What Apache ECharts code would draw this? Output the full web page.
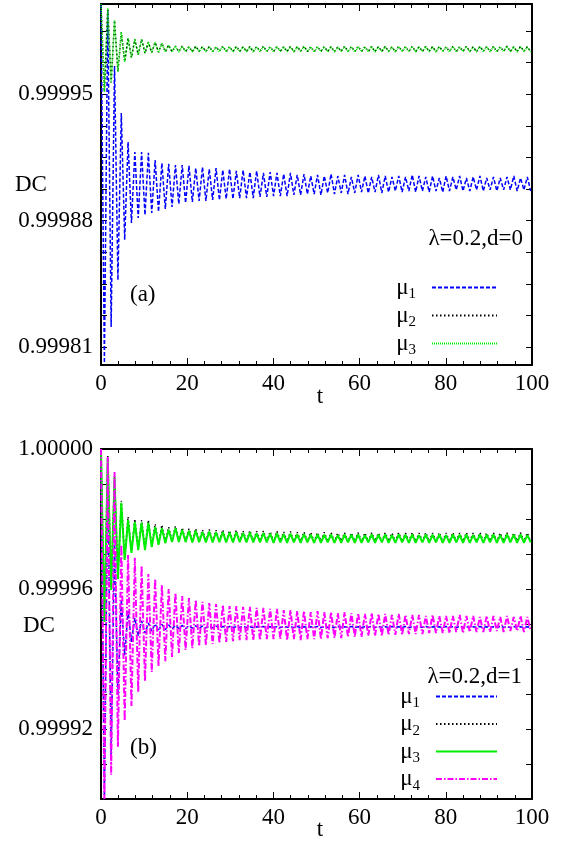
<!DOCTYPE html>
<html>
<head>
<meta charset="utf-8">
<script src="https://cdn.jsdelivr.net/npm/echarts@6/dist/echarts.min.js"></script>
<style>
  html, body { margin: 0; padding: 0; background: #fff; }
  #chart { width: 570px; height: 841px; }
</style>
</head>
<body>
<div id="chart"></div>
<script>
// Turning points of each DC(t) curve are stored in order; successive
// turning points are half an oscillation period apart in t.
const HALF_PERIOD = 0.785;

const tTicks = [0, 20, 40, 60, 80, 100];
const yLabelsA = [0.99981, 0.99988, 0.99995];
const yTicksA = [0.99981, 0.9998275, 0.999845, 0.9998625, 0.99988, 0.9998975,
                 0.999915, 0.9999325, 0.99995, 0.9999675, 0.999985];
const yLabelsB = [0.99992, 0.99996, 1.00000];
const yTicksB = [0.99991, 0.99992, 0.99993, 0.99994, 0.99995, 0.99996,
                 0.99997, 0.99998, 0.99999];

// panel (a): lambda=0.2, d=0
const dcA_mu1 = [
  1.0000000, 0.9998011, 0.9999967, 0.9998211, 0.9999657, 0.9998471, 0.9999396, 0.9998693,
  0.9999235, 0.9998787, 0.9999180, 0.9998814, 0.9999180, 0.9998831, 0.9999175, 0.9998842,
  0.9999136, 0.9998849, 0.9999119, 0.9998864, 0.9999114, 0.9998875, 0.9999108, 0.9998892,
  0.9999108, 0.9998898, 0.9999103, 0.9998903, 0.9999091, 0.9998909, 0.9999097, 0.9998909,
  0.9999086, 0.9998914, 0.9999091, 0.9998914, 0.9999080, 0.9998920, 0.9999086, 0.9998920,
  0.9999075, 0.9998925, 0.9999080, 0.9998925, 0.9999069, 0.9998925, 0.9999075, 0.9998931,
  0.9999064, 0.9998931, 0.9999069, 0.9998936, 0.9999064, 0.9998936, 0.9999058, 0.9998936,
  0.9999064, 0.9998942, 0.9999053, 0.9998942, 0.9999058, 0.9998947, 0.9999047, 0.9998947,
  0.9999053, 0.9998942, 0.9999047, 0.9998953, 0.9999058, 0.9998947, 0.9999047, 0.9998953,
  0.9999053, 0.9998947, 0.9999042, 0.9998953, 0.9999053, 0.9998958, 0.9999047, 0.9998953,
  0.9999042, 0.9998958, 0.9999053, 0.9998953, 0.9999047, 0.9998958, 0.9999042, 0.9998964,
  0.9999047, 0.9998958, 0.9999042, 0.9998964, 0.9999053, 0.9998958, 0.9999047, 0.9998964,
  0.9999042, 0.9998958, 0.9999047, 0.9998964, 0.9999036, 0.9998958, 0.9999047, 0.9998964,
  0.9999042, 0.9998970, 0.9999047, 0.9998964, 0.9999036, 0.9998964, 0.9999042, 0.9998970,
  0.9999047, 0.9998964, 0.9999036, 0.9998970, 0.9999042, 0.9998964, 0.9999036, 0.9998970,
  0.9999042, 0.9998970, 0.9999047, 0.9998964, 0.9999036, 0.9998970, 0.9999042, 0.9998964
];
const dcA_mu2 = [
  1.0000000, 0.9999515, 0.9999975, 0.9999565, 0.9999908, 0.9999626, 0.9999843, 0.9999681,
  0.9999810, 0.9999703, 0.9999804, 0.9999719, 0.9999804, 0.9999728, 0.9999788, 0.9999731,
  0.9999787, 0.9999733, 0.9999782, 0.9999736, 0.9999772, 0.9999736, 0.9999767, 0.9999736,
  0.9999766, 0.9999737, 0.9999764, 0.9999736, 0.9999766, 0.9999738, 0.9999763, 0.9999737,
  0.9999765, 0.9999736, 0.9999763, 0.9999738, 0.9999766, 0.9999737, 0.9999764, 0.9999736,
  0.9999765, 0.9999738, 0.9999763, 0.9999737, 0.9999765, 0.9999736, 0.9999764, 0.9999738,
  0.9999766, 0.9999737, 0.9999763, 0.9999736, 0.9999765, 0.9999738, 0.9999764, 0.9999737,
  0.9999765, 0.9999736, 0.9999764, 0.9999738, 0.9999766, 0.9999737, 0.9999763, 0.9999736,
  0.9999765, 0.9999738, 0.9999764, 0.9999737, 0.9999765, 0.9999736, 0.9999763, 0.9999738,
  0.9999766, 0.9999737, 0.9999764, 0.9999736, 0.9999765, 0.9999738, 0.9999763, 0.9999737,
  0.9999765, 0.9999736, 0.9999764, 0.9999738, 0.9999766, 0.9999737, 0.9999763, 0.9999736,
  0.9999765, 0.9999738, 0.9999764, 0.9999737, 0.9999765, 0.9999736, 0.9999763, 0.9999738,
  0.9999766, 0.9999737, 0.9999764, 0.9999736, 0.9999765, 0.9999738, 0.9999763, 0.9999737,
  0.9999765, 0.9999736, 0.9999764, 0.9999738, 0.9999766, 0.9999737, 0.9999763, 0.9999736,
  0.9999765, 0.9999738, 0.9999764, 0.9999737, 0.9999765, 0.9999736, 0.9999763, 0.9999738,
  0.9999766, 0.9999737, 0.9999764, 0.9999736, 0.9999765, 0.9999738, 0.9999763, 0.9999737
];
const dcA_mu3 = [
  1.0000000, 0.9999512, 0.9999978, 0.9999562, 0.9999911, 0.9999623, 0.9999845, 0.9999679,
  0.9999812, 0.9999701, 0.9999806, 0.9999717, 0.9999806, 0.9999727, 0.9999789, 0.9999729,
  0.9999789, 0.9999731, 0.9999784, 0.9999734, 0.9999773, 0.9999734, 0.9999767, 0.9999734,
  0.9999765, 0.9999735, 0.9999763, 0.9999734, 0.9999765, 0.9999736, 0.9999762, 0.9999735,
  0.9999764, 0.9999734, 0.9999762, 0.9999736, 0.9999765, 0.9999735, 0.9999763, 0.9999734,
  0.9999764, 0.9999736, 0.9999762, 0.9999735, 0.9999764, 0.9999734, 0.9999763, 0.9999736,
  0.9999765, 0.9999735, 0.9999762, 0.9999734, 0.9999764, 0.9999736, 0.9999763, 0.9999735,
  0.9999764, 0.9999734, 0.9999763, 0.9999736, 0.9999765, 0.9999735, 0.9999762, 0.9999734,
  0.9999764, 0.9999736, 0.9999763, 0.9999735, 0.9999764, 0.9999734, 0.9999762, 0.9999736,
  0.9999765, 0.9999735, 0.9999763, 0.9999734, 0.9999764, 0.9999736, 0.9999762, 0.9999735,
  0.9999764, 0.9999734, 0.9999763, 0.9999736, 0.9999765, 0.9999735, 0.9999762, 0.9999734,
  0.9999764, 0.9999736, 0.9999763, 0.9999735, 0.9999764, 0.9999734, 0.9999762, 0.9999736,
  0.9999765, 0.9999735, 0.9999763, 0.9999734, 0.9999764, 0.9999736, 0.9999762, 0.9999735,
  0.9999764, 0.9999734, 0.9999763, 0.9999736, 0.9999765, 0.9999735, 0.9999762, 0.9999734,
  0.9999764, 0.9999736, 0.9999763, 0.9999735, 0.9999764, 0.9999734, 0.9999762, 0.9999736,
  0.9999765, 0.9999735, 0.9999763, 0.9999734, 0.9999764, 0.9999736, 0.9999762, 0.9999735
];

// panel (b): lambda=0.2, d=1
const dcB_mu1 = [
  1.0000000, 0.9999000, 0.9999940, 0.9999126, 0.9999737, 0.9999297, 0.9999569, 0.9999411,
  0.9999537, 0.9999449, 0.9999517, 0.9999466, 0.9999509, 0.9999474, 0.9999503, 0.9999480,
  0.9999500, 0.9999483, 0.9999499, 0.9999484, 0.9999497, 0.9999486, 0.9999496, 0.9999487,
  0.9999496, 0.9999487, 0.9999495, 0.9999488, 0.9999495, 0.9999488, 0.9999494, 0.9999489,
  0.9999494, 0.9999489, 0.9999494, 0.9999489, 0.9999493, 0.9999490, 0.9999493, 0.9999490,
  0.9999492, 0.9999490, 0.9999493, 0.9999490, 0.9999492, 0.9999490, 0.9999492, 0.9999491,
  0.9999493, 0.9999490, 0.9999492, 0.9999491, 0.9999492, 0.9999490, 0.9999493, 0.9999491,
  0.9999492, 0.9999490, 0.9999493, 0.9999490, 0.9999492, 0.9999490, 0.9999492, 0.9999491,
  0.9999493, 0.9999490, 0.9999492, 0.9999491, 0.9999492, 0.9999490, 0.9999493, 0.9999491,
  0.9999492, 0.9999490, 0.9999493, 0.9999490, 0.9999492, 0.9999490, 0.9999492, 0.9999491,
  0.9999493, 0.9999490, 0.9999492, 0.9999491, 0.9999492, 0.9999490, 0.9999493, 0.9999491,
  0.9999492, 0.9999490, 0.9999493, 0.9999490, 0.9999492, 0.9999490, 0.9999492, 0.9999491,
  0.9999493, 0.9999490, 0.9999492, 0.9999491, 0.9999492, 0.9999490, 0.9999493, 0.9999491,
  0.9999492, 0.9999490, 0.9999493, 0.9999490, 0.9999492, 0.9999490, 0.9999492, 0.9999491,
  0.9999493, 0.9999490, 0.9999492, 0.9999491, 0.9999492, 0.9999490, 0.9999493, 0.9999491,
  0.9999492, 0.9999490, 0.9999493, 0.9999490, 0.9999492, 0.9999490, 0.9999492, 0.9999491
];
const dcB_mu2 = [
  1.0000000, 0.9999515, 0.9999980, 0.9999605, 0.9999924, 0.9999635, 0.9999852, 0.9999688,
  0.9999806, 0.9999708, 0.9999800, 0.9999715, 0.9999797, 0.9999715, 0.9999797, 0.9999723,
  0.9999786, 0.9999729, 0.9999783, 0.9999734, 0.9999777, 0.9999737, 0.9999780, 0.9999737,
  0.9999775, 0.9999737, 0.9999772, 0.9999736, 0.9999772, 0.9999737, 0.9999769, 0.9999736,
  0.9999770, 0.9999736, 0.9999768, 0.9999737, 0.9999769, 0.9999736, 0.9999767, 0.9999736,
  0.9999768, 0.9999737, 0.9999766, 0.9999736, 0.9999767, 0.9999736, 0.9999765, 0.9999737,
  0.9999766, 0.9999736, 0.9999764, 0.9999736, 0.9999765, 0.9999737, 0.9999763, 0.9999736,
  0.9999764, 0.9999736, 0.9999762, 0.9999737, 0.9999763, 0.9999736, 0.9999762, 0.9999736,
  0.9999761, 0.9999737, 0.9999762, 0.9999736, 0.9999761, 0.9999736, 0.9999760, 0.9999737,
  0.9999761, 0.9999736, 0.9999760, 0.9999737, 0.9999761, 0.9999736, 0.9999760, 0.9999736,
  0.9999761, 0.9999737, 0.9999760, 0.9999736, 0.9999761, 0.9999737, 0.9999760, 0.9999736,
  0.9999761, 0.9999736, 0.9999760, 0.9999737, 0.9999761, 0.9999736, 0.9999760, 0.9999737,
  0.9999761, 0.9999736, 0.9999760, 0.9999737, 0.9999761, 0.9999736, 0.9999760, 0.9999736,
  0.9999761, 0.9999737, 0.9999760, 0.9999736, 0.9999761, 0.9999737, 0.9999760, 0.9999736,
  0.9999761, 0.9999736, 0.9999760, 0.9999737, 0.9999761, 0.9999736, 0.9999760, 0.9999737,
  0.9999761, 0.9999736, 0.9999760, 0.9999737, 0.9999761, 0.9999736, 0.9999760, 0.9999736
];
const dcB_mu3 = [
  0.9999997, 0.9999506, 0.9999974, 0.9999597, 0.9999917, 0.9999629, 0.9999846, 0.9999683,
  0.9999797, 0.9999703, 0.9999791, 0.9999711, 0.9999789, 0.9999711, 0.9999789, 0.9999720,
  0.9999777, 0.9999726, 0.9999774, 0.9999731, 0.9999769, 0.9999734, 0.9999774, 0.9999734,
  0.9999769, 0.9999734, 0.9999766, 0.9999733, 0.9999766, 0.9999734, 0.9999763, 0.9999733,
  0.9999764, 0.9999733, 0.9999762, 0.9999734, 0.9999763, 0.9999733, 0.9999761, 0.9999733,
  0.9999762, 0.9999734, 0.9999760, 0.9999733, 0.9999761, 0.9999733, 0.9999759, 0.9999733,
  0.9999760, 0.9999733, 0.9999758, 0.9999732, 0.9999759, 0.9999733, 0.9999757, 0.9999732,
  0.9999758, 0.9999733, 0.9999756, 0.9999732, 0.9999757, 0.9999733, 0.9999755, 0.9999732,
  0.9999756, 0.9999732, 0.9999755, 0.9999733, 0.9999756, 0.9999732, 0.9999754, 0.9999732,
  0.9999756, 0.9999733, 0.9999755, 0.9999732, 0.9999756, 0.9999732, 0.9999754, 0.9999733,
  0.9999756, 0.9999732, 0.9999755, 0.9999733, 0.9999756, 0.9999732, 0.9999754, 0.9999732,
  0.9999756, 0.9999733, 0.9999755, 0.9999732, 0.9999756, 0.9999732, 0.9999754, 0.9999733,
  0.9999756, 0.9999732, 0.9999755, 0.9999733, 0.9999756, 0.9999732, 0.9999754, 0.9999732,
  0.9999756, 0.9999733, 0.9999755, 0.9999732, 0.9999756, 0.9999732, 0.9999754, 0.9999733,
  0.9999756, 0.9999732, 0.9999755, 0.9999733, 0.9999756, 0.9999732, 0.9999754, 0.9999732,
  0.9999756, 0.9999733, 0.9999755, 0.9999732, 0.9999756, 0.9999732, 0.9999754, 0.9999733
];
const dcB_mu4 = [
  1.0000000, 0.9999000, 0.9999977, 0.9999069, 0.9999934, 0.9999149, 0.9999726, 0.9999223,
  0.9999697, 0.9999266, 0.9999689, 0.9999306, 0.9999666, 0.9999337, 0.9999643, 0.9999363,
  0.9999629, 0.9999380, 0.9999611, 0.9999394, 0.9999600, 0.9999406, 0.9999589, 0.9999417,
  0.9999580, 0.9999426, 0.9999574, 0.9999431, 0.9999569, 0.9999437, 0.9999563, 0.9999440,
  0.9999560, 0.9999443, 0.9999557, 0.9999446, 0.9999554, 0.9999449, 0.9999551, 0.9999451,
  0.9999551, 0.9999454, 0.9999549, 0.9999454, 0.9999549, 0.9999454, 0.9999546, 0.9999454,
  0.9999546, 0.9999457, 0.9999543, 0.9999457, 0.9999543, 0.9999457, 0.9999540, 0.9999454,
  0.9999540, 0.9999457, 0.9999537, 0.9999454, 0.9999537, 0.9999457, 0.9999534, 0.9999457,
  0.9999537, 0.9999457, 0.9999534, 0.9999460, 0.9999534, 0.9999460, 0.9999531, 0.9999460,
  0.9999534, 0.9999463, 0.9999531, 0.9999463, 0.9999531, 0.9999463, 0.9999529, 0.9999466,
  0.9999531, 0.9999466, 0.9999529, 0.9999466, 0.9999529, 0.9999469, 0.9999526, 0.9999469,
  0.9999529, 0.9999469, 0.9999526, 0.9999471, 0.9999526, 0.9999471, 0.9999526, 0.9999471,
  0.9999523, 0.9999474, 0.9999526, 0.9999474, 0.9999523, 0.9999474, 0.9999523, 0.9999474,
  0.9999523, 0.9999477, 0.9999526, 0.9999474, 0.9999523, 0.9999477, 0.9999523, 0.9999477,
  0.9999520, 0.9999477, 0.9999523, 0.9999477, 0.9999523, 0.9999480, 0.9999520, 0.9999477,
  0.9999523, 0.9999480, 0.9999520, 0.9999480, 0.9999523, 0.9999477, 0.9999520, 0.9999480
];

const FONT = "'Liberation Serif', 'DejaVu Serif', serif";
const BLACK = '#000000';

const toPoints = arr => arr.map((v, k) => [k * HALF_PERIOD, v]);

function xAxisOf(grid, position, showLabels) {
  return {
    type: 'value', gridIndex: grid, position: position,
    min: tTicks[0], max: tTicks[tTicks.length - 1], interval: 20,
    axisLine: { show: true, onZero: false, lineStyle: { color: BLACK, width: 2 } },
    axisTick: { show: true, inside: true, length: 7, lineStyle: { color: BLACK, width: 1 } },
    minorTick: { show: true, splitNumber: 5, length: 4, lineStyle: { color: BLACK, width: 1 } },
    splitLine: { show: false }, minorSplitLine: { show: false },
    axisLabel: { show: showLabels, color: BLACK, fontFamily: FONT, fontSize: 23, margin: 7 }
  };
}

function yAxisOf(grid, position, min, max, ticks, labels, showLabels) {
  return {
    type: 'value', gridIndex: grid, position: position, min: min, max: max,
    axisLine: { show: true, onZero: false, lineStyle: { color: BLACK, width: 2 } },
    axisTick: { show: true, inside: true, length: 6, customValues: ticks,
                lineStyle: { color: BLACK, width: 1 } },
    splitLine: { show: false },
    axisLabel: { show: showLabels, customValues: labels, color: BLACK,
                 fontFamily: FONT, fontSize: 23, margin: 8,
                 formatter: v => Number(v).toFixed(5) }
  };
}

function line(name, grid, data, color, type, width) {
  return {
    name: name, type: 'line', xAxisIndex: grid * 2, yAxisIndex: grid * 2,
    data: toPoints(data), symbol: 'none', showSymbol: false,
    lineStyle: { color: color, type: type, width: width },
    itemStyle: { color: color },
    animation: false, silent: true
  };
}

const legendRich = {
  m: { fontFamily: FONT, fontSize: 23, color: BLACK, lineHeight: 24 },
  s: { fontFamily: FONT, fontSize: 15, color: BLACK, padding: [14, 11, 0, 0] }
};
const legendLabel = name => '{m|\u03bc}{s|' + name.slice(-1) + '}';

function text(str, x, y, align) {
  return {
    type: 'text', x: x, y: y, silent: true,
    style: { text: str, fill: BLACK, font: '23px ' + FONT,
             align: align || 'left', verticalAlign: 'middle' }
  };
}

const chart = echarts.init(document.getElementById('chart'), null, { renderer: 'canvas' });
chart.setOption({
  backgroundColor: '#ffffff',
  animation: false,
  grid: [
    { left: 101, top: 4, width: 431, height: 361 },
    { left: 101, top: 449, width: 431, height: 350 }
  ],
  xAxis: [
    xAxisOf(0, 'bottom', true), xAxisOf(0, 'top', false),
    xAxisOf(1, 'bottom', true), xAxisOf(1, 'top', false)
  ],
  yAxis: [
    yAxisOf(0, 'left', 0.9998, 1.0, yTicksA, yLabelsA, true),
    yAxisOf(0, 'right', 0.9998, 1.0, yTicksA, yLabelsA, false),
    yAxisOf(1, 'left', 0.9999, 1.0, yTicksB, yLabelsB, true),
    yAxisOf(1, 'right', 0.9999, 1.0, yTicksB, yLabelsB, false)
  ],
  legend: [
    {
      data: ['a-\u03bc1', 'a-\u03bc2', 'a-\u03bc3'],
      orient: 'vertical', align: 'right', right: 67, top: 271,
      itemWidth: 65, itemHeight: 10, itemGap: 2,
      itemStyle: { opacity: 0 },
      formatter: legendLabel, textStyle: { rich: legendRich },
      selectedMode: false, inactiveColor: BLACK
    },
    {
      data: ['b-\u03bc1', 'b-\u03bc2', 'b-\u03bc3', 'b-\u03bc4'],
      orient: 'vertical', align: 'right', right: 67, top: 680,
      itemWidth: 61, itemHeight: 10, itemGap: 1.5,
      itemStyle: { opacity: 0 },
      formatter: legendLabel, textStyle: { rich: legendRich },
      selectedMode: false, inactiveColor: BLACK
    }
  ],
  series: [
    line('a-\u03bc1', 0, dcA_mu1, '#0000ff', [4, 2], 1.5),
    line('a-\u03bc2', 0, dcA_mu2, '#000000', [1.5, 2.5], 1.5),
    line('a-\u03bc3', 0, dcA_mu3, '#00ee00', [1, 1], 1.5),
    line('b-\u03bc1', 1, dcB_mu1, '#0000ff', [4, 2], 1.5),
    line('b-\u03bc2', 1, dcB_mu2, '#000000', [1.5, 2.5], 1.5),
    line('b-\u03bc3', 1, dcB_mu3, '#00ee00', 'solid', 2),
    line('b-\u03bc4', 1, dcB_mu4, '#ff00ff', [6, 2, 1.5, 2], 2)
  ],
  graphic: [
    text('DC', 15, 185),
    text('(a)', 130, 295),
    text('\u03bb=0.2,d=0', 523, 239, 'right'),
    text('t', 320, 397, 'center'),
    text('DC', 23, 626),
    text('(b)', 130, 748),
    text('\u03bb=0.2,d=1', 522, 677, 'right'),
    text('t', 320, 830, 'center')
  ]
});
</script>
</body>
</html>
